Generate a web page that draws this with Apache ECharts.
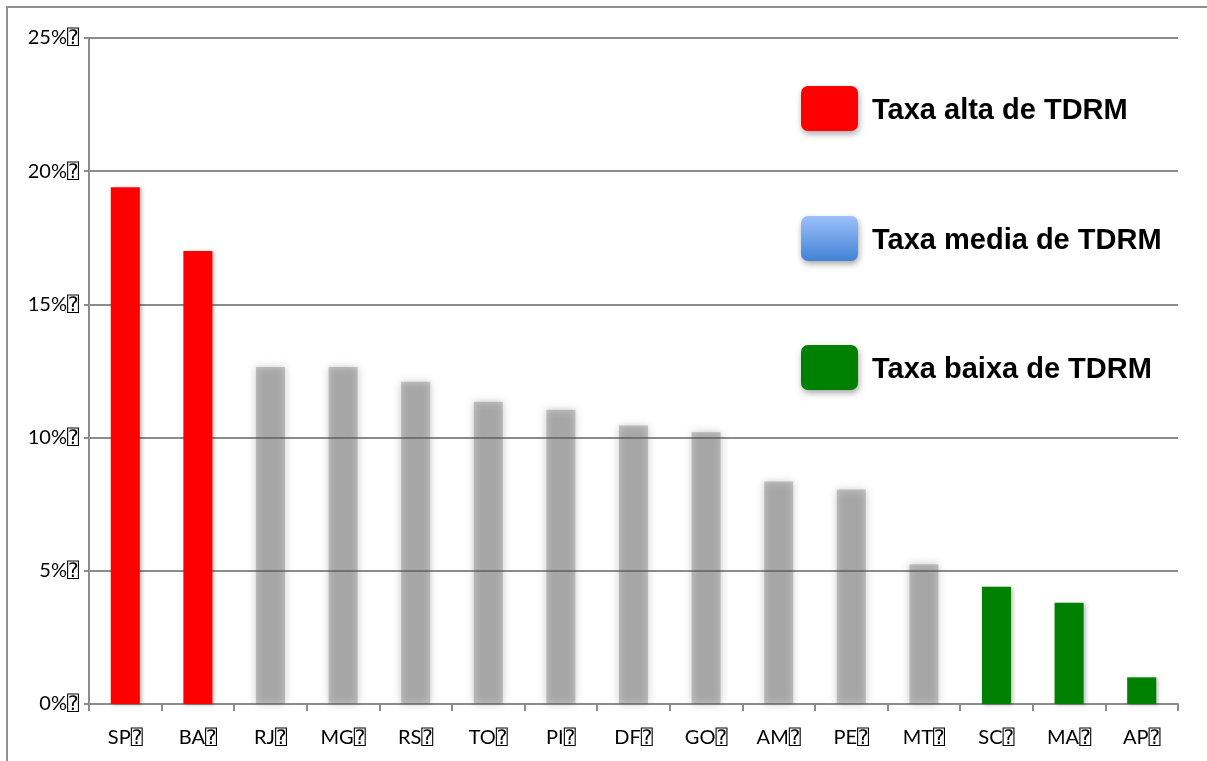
<!DOCTYPE html>
<html>
<head>
<meta charset="utf-8">
<style>
  html, body { margin: 0; padding: 0; background: #ffffff; }
  #chart { width: 1207px; height: 761px; }
</style>
<script src="https://cdn.jsdelivr.net/npm/echarts@6/dist/echarts.min.js"></script>
</head>
<body>
<div id="chart"></div>
<script>
// States ordered by TDRM rate (%)
const categories = ['SP', 'BA', 'RJ', 'MG', 'RS', 'TO', 'PI', 'DF', 'GO', 'AM', 'PE', 'MT', 'SC', 'MA', 'AP'];
const taxaAlta  = [19.4, 17.0, null, null, null, null, null, null, null, null, null, null, null, null, null];
const taxaMedia = [null, null, 12.65, 12.65, 12.1, 11.35, 11.05, 10.45, 10.2, 8.35, 8.05, 5.25, null, null, null];
const taxaBaixa = [null, null, null, null, null, null, null, null, null, null, null, null, 4.4, 3.8, 1.0];
const yTicks = [0, 5, 10, 15, 20, 25];
const legendLabels = ['Taxa alta de TDRM', 'Taxa media de TDRM', 'Taxa baixa de TDRM'];

const mark = '\u2370';
const labelFont = "Lato, 'Open Sans', 'DejaVu Sans', 'DejaVu Sans Mono', sans-serif";
const axisGray = '#8c8c8c';

const chart = echarts.init(document.getElementById('chart'), null, { renderer: 'canvas' });

const crispShadow = {
  shadowBlur: 4,
  shadowColor: 'rgba(0,0,0,0.25)',
  shadowOffsetX: 2,
  shadowOffsetY: 1
};

function legendItem(idx, top, fill) {
  return [
    {
      type: 'rect',
      left: 801, top: top,
      shape: { width: 57, height: 45, r: 7 },
      style: {
        fill: fill,
        shadowBlur: 6,
        shadowColor: 'rgba(0,0,0,0.35)',
        shadowOffsetX: 1,
        shadowOffsetY: 3
      },
      z: 10
    },
    {
      type: 'text',
      left: 872, top: top + 10,
      style: {
        text: legendLabels[idx],
        font: "bold 29px 'Liberation Sans', Arial, sans-serif",
        fill: '#000000',
        verticalAlign: 'middle'
      },
      z: 10
    }
  ];
}

const option = {
  animation: false,
  backgroundColor: '#ffffff',
  grid: { left: 89, top: 38, right: 29, bottom: 57, containLabel: false },
  xAxis: {
    type: 'category',
    data: categories,
    axisLine: { lineStyle: { color: axisGray, width: 2 } },
    axisTick: { show: true, length: 7, lineStyle: { color: axisGray, width: 2 } },
    axisLabel: {
      margin: 24,
      fontSize: 20,
      fontFamily: labelFont,
      color: '#000000',
      formatter: v => v + mark
    }
  },
  yAxis: {
    type: 'value',
    min: yTicks[0],
    max: yTicks[yTicks.length - 1],
    interval: 5,
    axisLine: { show: true, lineStyle: { color: axisGray, width: 2 } },
    axisTick: { show: true, length: 5, lineStyle: { color: axisGray, width: 2 } },
    splitLine: { show: true, lineStyle: { color: axisGray, width: 2 } },
    axisLabel: {
      margin: 10,
      fontSize: 20,
      fontFamily: labelFont,
      color: '#000000',
      formatter: v => v + '%' + mark
    }
  },
  series: [
    {
      name: legendLabels[0],
      type: 'bar',
      stack: 'tdrm',
      barWidth: '40%',
      data: taxaAlta,
      itemStyle: Object.assign({ color: '#ff0000' }, crispShadow)
    },
    {
      name: legendLabels[1],
      type: 'bar',
      stack: 'tdrm',
      barWidth: '40%',
      data: taxaMedia,
      // soft, slightly see-through gray columns
      itemStyle: {
        color: 'rgba(90,90,90,0.32)',
        shadowBlur: 8,
        shadowColor: 'rgba(90,90,90,1)',
        shadowOffsetX: 0,
        shadowOffsetY: 0
      }
    },
    {
      name: legendLabels[2],
      type: 'bar',
      stack: 'tdrm',
      barWidth: '40%',
      data: taxaBaixa,
      itemStyle: Object.assign({ color: '#008000' }, crispShadow)
    }
  ],
  graphic: [
    {
      type: 'polyline',
      shape: { points: [[7, 800], [7, 7], [1220, 7]] },
      style: { stroke: '#909090', lineWidth: 2, fill: null },
      z: 0
    },
    ...legendItem(0, 86, '#ff0000'),
    ...legendItem(1, 216, {
      type: 'linear', x: 0, y: 0, x2: 0, y2: 1,
      colorStops: [
        { offset: 0, color: '#9dc0fb' },
        { offset: 1, color: '#4282d6' }
      ]
    }),
    ...legendItem(2, 345, '#008000')
  ]
};

chart.setOption(option);
</script>
</body>
</html>
